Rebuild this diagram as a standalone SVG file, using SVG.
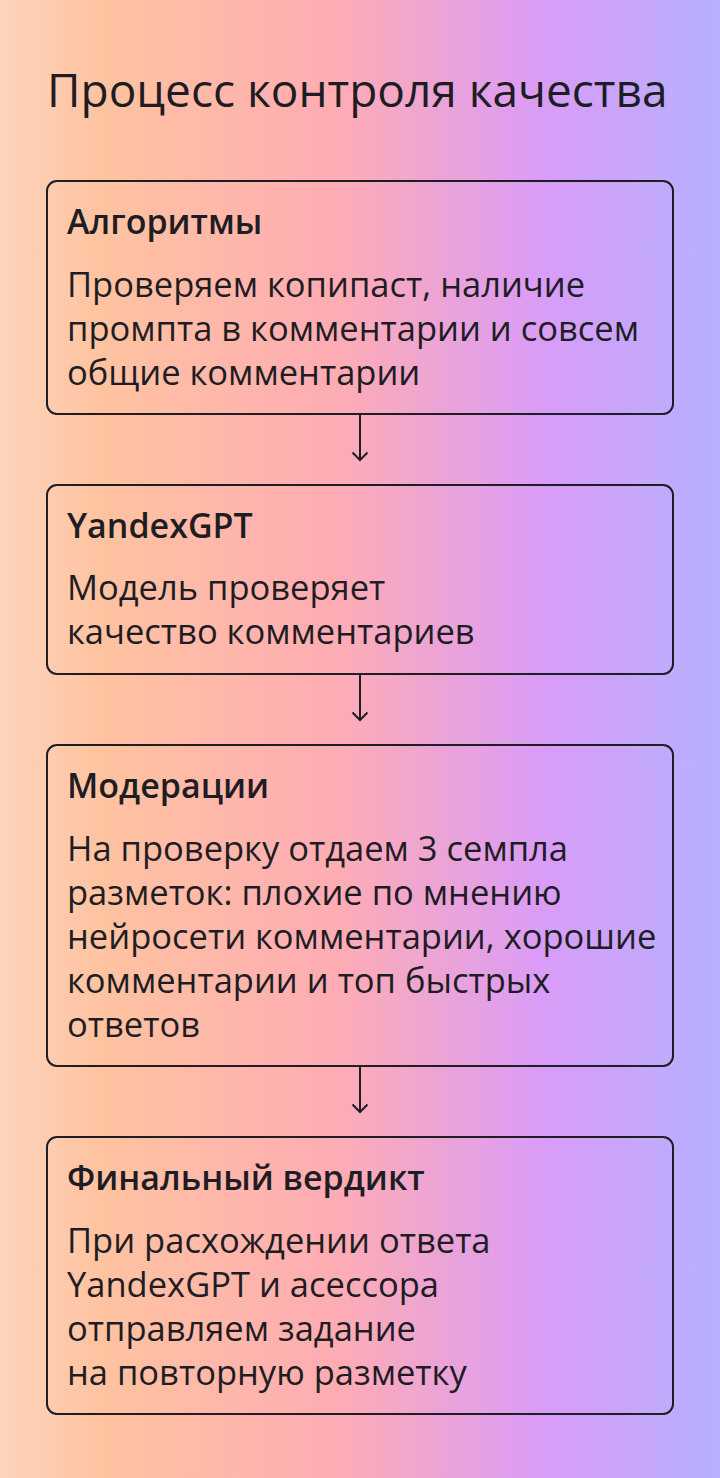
<svg xmlns="http://www.w3.org/2000/svg" width="720" height="1478" viewBox="0 0 720 1478">
<defs>
<linearGradient id="bg" x1="0" y1="0" x2="720" y2="0" gradientUnits="userSpaceOnUse">
<stop offset="0" stop-color="#fcd4bd"/>
<stop offset="0.14" stop-color="#ffc3a0"/>
<stop offset="0.47" stop-color="#feacb4"/>
<stop offset="0.75" stop-color="#da9cf7"/>
<stop offset="1" stop-color="#b6b0ff"/>
</linearGradient>
<style>
.box{fill:none;stroke:#1e1d24;stroke-width:2}
.title{font-family:"Open Sans","Noto Sans",sans-serif;font-size:46px;fill:#1e1d24}
.h{font-family:"Open Sans","Noto Sans",sans-serif;font-size:34px;font-weight:600;fill:#1e1d24}
.t{font-family:"Open Sans","Noto Sans",sans-serif;font-size:34.5px;fill:#1e1d24}
.con{fill:none;stroke:#1e1d24;stroke-width:2}
</style>
</defs>
<rect width="720" height="1478" fill="url(#bg)"/>
<text class="title" x="47" y="107">Процесс контроля качества</text>
<g id="node1">
<rect class="box" x="47" y="181" width="626" height="233" rx="10"/>
<text class="h" x="67" y="234">Алгоритмы</text>
<text class="t" x="67" y="297">Проверяем копипаст, наличие</text>
<text class="t" x="67" y="341">промпта в комментарии и совсем</text>
<text class="t" x="67" y="385">общие комментарии</text>
</g>
<g id="node2">
<rect class="box" x="47" y="485" width="626" height="189" rx="10"/>
<text class="h" x="67" y="538">YandexGPT</text>
<text class="t" x="67" y="600">Модель проверяет</text>
<text class="t" x="67" y="644">качество комментариев</text>
</g>
<g id="node3">
<rect class="box" x="47" y="745" width="626" height="321" rx="10"/>
<text class="h" x="67" y="798">Модерации</text>
<text class="t" x="67" y="861">На проверку отдаем 3 семпла</text>
<text class="t" x="67" y="905">разметок: плохие по мнению</text>
<text class="t" x="67" y="949">нейросети комментарии, хорошие</text>
<text class="t" x="67" y="993">комментарии и топ быстрых</text>
<text class="t" x="67" y="1037">ответов</text>
</g>
<g id="node4">
<rect class="box" x="47" y="1137" width="626" height="277" rx="10"/>
<text class="h" x="67" y="1190">Финальный вердикт</text>
<text class="t" x="67" y="1253">При расхождении ответа</text>
<text class="t" x="67" y="1297">YandexGPT и асессора</text>
<text class="t" x="67" y="1341">отправляем задание</text>
<text class="t" x="67" y="1385">на повторную разметку</text>
</g>
<g id="connectors">
<path class="con" d="M360 414V460M352.5 452.5L360 460L367.5 452.5"/>
<path class="con" d="M360 674V720M352.5 712.5L360 720L367.5 712.5"/>
<path class="con" d="M360 1066V1112M352.5 1104.5L360 1112L367.5 1104.5"/>
</g>
</svg>
